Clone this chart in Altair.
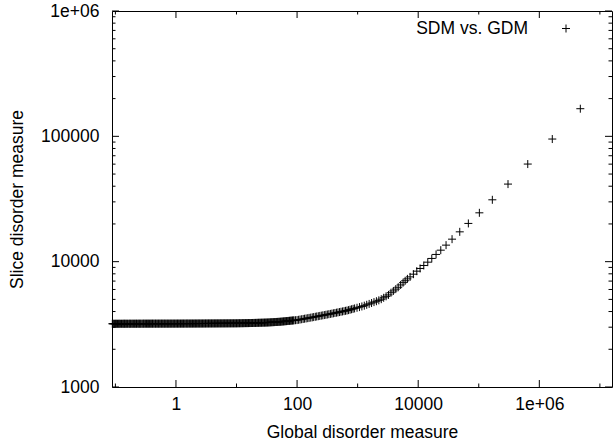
import altair as alt
import pandas as pd

# ---- data (Global disorder measure vs Slice disorder measure)
gdm_1 = [0.089, 0.094, 0.1, 0.105, 0.112, 0.118, 0.126, 0.134, 0.141, 0.149,
         0.158, 0.169, 0.177, 0.189, 0.2, 0.212, 0.223, 0.238, 0.251, 0.265,
         0.283, 0.298, 0.316, 0.336, 0.354, 0.377, 0.398, 0.421, 0.448, 0.472,
         0.501, 0.53, 0.563, 0.595, 0.632, 0.667, 0.709, 0.749, 0.795, 0.84]
sdm_1 = [3195, 3195, 3196, 3196, 3196, 3197, 3197, 3197, 3198, 3198,
         3198, 3198, 3199, 3199, 3199, 3199, 3200, 3200, 3200, 3200,
         3200, 3201, 3201, 3201, 3201, 3201, 3202, 3202, 3202, 3202,
         3202, 3202, 3203, 3203, 3203, 3203, 3203, 3203, 3203, 3204]
gdm_1b = [0.0915, 0.097, 0.1025, 0.1085, 0.115, 0.122, 0.13, 0.1375, 0.145, 0.1535,
          0.163, 0.173, 0.183, 0.194, 0.206, 0.218, 0.23, 0.244, 0.258, 0.274,
          0.29, 0.307, 0.326, 0.345, 0.365, 0.387, 0.41, 0.434, 0.46, 0.487,
          0.516, 0.546, 0.579, 0.613, 0.65, 0.688, 0.729, 0.772, 0.818, 0.866]
sdm_1b = [3195, 3195, 3196, 3196, 3197, 3197, 3197, 3198, 3198, 3198,
          3198, 3199, 3199, 3199, 3199, 3200, 3200, 3200, 3200, 3200,
          3201, 3201, 3201, 3201, 3201, 3202, 3202, 3202, 3202, 3202,
          3202, 3203, 3203, 3203, 3203, 3203, 3203, 3203, 3204, 3204]

gdm_2 = [0.892, 0.943, 1.0, 1.06, 1.12, 1.19, 1.26, 1.33, 1.41, 1.5,
         1.58, 1.68, 1.78, 1.88, 2.0, 2.11, 2.24, 2.37, 2.51, 2.66,
         2.82, 2.99, 3.16, 3.35, 3.55, 3.76, 3.98, 4.22, 4.47, 4.73,
         5.01, 5.31, 5.62, 5.96, 6.31, 6.68, 7.08, 7.5, 7.94, 8.41]
sdm_2 = [3204, 3204, 3204, 3205, 3205, 3205, 3206, 3206, 3206, 3207,
         3207, 3207, 3208, 3208, 3208, 3209, 3209, 3210, 3210, 3210,
         3211, 3211, 3212, 3212, 3213, 3213, 3214, 3214, 3215, 3215,
         3216, 3216, 3217, 3217, 3218, 3218, 3219, 3220, 3220, 3221]
gdm_2b = [0.917, 0.971, 1.03, 1.09, 1.155, 1.225, 1.295, 1.37, 1.455, 1.54,
          1.63, 1.73, 1.83, 1.94, 2.055, 2.175, 2.305, 2.44, 2.585, 2.74,
          2.9, 3.075, 3.255, 3.45, 3.655, 3.87, 4.1, 4.345, 4.6, 4.87,
          5.16, 5.465, 5.79, 6.135, 6.495, 6.88, 7.29, 7.72, 8.175, 8.66]
sdm_2b = [3204, 3204, 3205, 3205, 3205, 3206, 3206, 3206, 3207, 3207,
          3207, 3208, 3208, 3208, 3209, 3209, 3210, 3210, 3210, 3211,
          3211, 3212, 3212, 3213, 3213, 3214, 3214, 3215, 3215, 3216,
          3216, 3217, 3217, 3218, 3218, 3219, 3219, 3220, 3221, 3221]

gdm_3 = [8.91, 9.44, 10.0, 10.6, 11.2, 11.9, 12.6, 13.3, 14.1, 15.0,
         15.8, 16.8, 17.8, 18.8, 20.0, 21.1, 22.4, 23.7, 25.1, 26.6,
         28.2, 29.9, 31.6, 33.5, 35.5, 37.6, 39.8, 42.2, 44.7, 47.3,
         50.1, 53.1, 56.2, 59.6, 63.1, 66.8, 70.8, 75.0, 79.4, 84.1]
sdm_3 = [3221, 3221, 3222, 3224, 3225, 3227, 3229, 3231, 3233, 3234,
         3236, 3238, 3240, 3243, 3245, 3248, 3251, 3254, 3257, 3260,
         3263, 3265, 3268, 3273, 3278, 3284, 3289, 3295, 3301, 3306,
         3312, 3318, 3327, 3336, 3345, 3354, 3364, 3373, 3383, 3392]
gdm_3b = [9.17, 9.71, 10.3, 10.9, 11.55, 12.25, 12.95, 13.7, 14.55, 15.4,
          16.3, 17.3, 18.3, 19.4, 20.55, 21.75, 23.05, 24.4, 25.85, 27.4,
          29.0, 30.75, 32.55, 34.5, 36.55, 38.7, 41.0, 43.45, 46.0, 48.7,
          51.6, 54.65, 57.9, 61.35, 64.95, 68.8, 72.9, 77.2, 81.75, 86.6]
sdm_3b = [3221, 3222, 3223, 3225, 3226, 3228, 3230, 3232, 3233, 3235,
          3237, 3239, 3241, 3244, 3246, 3249, 3252, 3255, 3258, 3261,
          3264, 3266, 3270, 3275, 3281, 3286, 3292, 3298, 3303, 3309,
          3315, 3322, 3331, 3340, 3350, 3359, 3368, 3378, 3387, 3397]

gdm_4 = [89.1, 94.4, 100, 106, 112, 119, 126, 133, 141, 150,
         158, 168, 178, 188, 200, 211, 224, 237, 251, 266,
         282, 299, 316, 335, 355, 376, 398, 422, 447, 473,
         501, 531, 562, 596, 631, 668, 708, 750, 794, 841]
sdm_4 = [3402, 3411, 3420, 3437, 3454, 3471, 3489, 3506, 3524, 3541,
         3559, 3577, 3595, 3614, 3633, 3652, 3671, 3690, 3710, 3729,
         3749, 3769, 3789, 3810, 3830, 3852, 3873, 3895, 3917, 3939,
         3961, 3984, 4007, 4030, 4053, 4076, 4105, 4137, 4170, 4203]

gdm_5 = [891, 977, 1072, 1175, 1288, 1413, 1549, 1698, 1862, 2042,
         2239, 2455, 2692, 2951, 3236, 3548, 3890, 4266, 4677, 5129,
         5623, 6095]
sdm_5 = [4235, 4288, 4340, 4393, 4455, 4528, 4602, 4678, 4756, 4835,
         4915, 5020, 5150, 5290, 5430, 5650, 5840, 6040, 6250, 6520,
         6800, 7040]

gdm_6 = [6640, 7350, 8330, 9480, 10740, 12360, 14390, 16760, 19730, 23590,
         28840, 36220, 48560, 67300, 102300, 167500, 304100, 644000, 1637000, 4753000]
sdm_6 = [7290, 7561, 7946, 8399, 8825, 9325, 9908, 10610, 11420, 12350,
         13550, 15120, 17300, 20190, 24530, 31160, 41590, 60100, 95150, 166100]

gdm = gdm_1 + gdm_1b + gdm_2 + gdm_2b + gdm_3 + gdm_3b + gdm_4 + gdm_5 + gdm_6
sdm = sdm_1 + sdm_1b + sdm_2 + sdm_2b + sdm_3 + sdm_3b + sdm_4 + sdm_5 + sdm_6

x_major = [1, 100, 10000, 1000000]
x_minor = [0.1, 10, 1000, 100000, 10000000]
y_major = [1000, 10000, 100000, 1000000]
y_minor = [2000, 3000, 4000, 5000, 6000, 7000, 8000, 9000,
           20000, 30000, 40000, 50000, 60000, 70000, 80000, 90000,
           200000, 300000, 400000, 500000, 600000, 700000, 800000, 900000]

legend_label = "SDM vs. GDM"
x_title = "Global disorder measure"
y_title = "Slice disorder measure"

W, H = 500, 376
FONT = "Liberation Sans"
FS = 17.5
CROSS = "M-1,0L1,0M0,-1L0,1"

xscale = alt.Scale(type="log", domain=[0.0879, 1.585e7], nice=False)
yscale = alt.Scale(type="log", domain=[1000, 1000000], nice=False)

lab = "datum.value >= 1000000 ? '1e+06' : format(datum.value, 'd')"

ax_x = alt.Axis(values=x_major, labelExpr=lab, ticks=False, domain=False, grid=False,
                title=x_title, labelPadding=8, titlePadding=11,
                labelFontSize=FS, titleFontSize=FS, labelFont=FONT, titleFont=FONT,
                labelColor="black", titleColor="black", titleFontWeight="normal",
                labelFlush=False)
ax_y = alt.Axis(values=y_major, labelExpr=lab, ticks=False, domain=False, grid=False,
                title=y_title, labelPadding=13, titlePadding=14,
                labelFontSize=FS, titleFontSize=FS, labelFont=FONT, titleFont=FONT,
                labelColor="black", titleColor="black", titleFontWeight="normal",
                labelFlush=False)

df = pd.DataFrame({"gdm": gdm, "sdm": sdm})

points = alt.Chart(df).mark_point(
    shape=CROSS, filled=False, stroke="black", strokeWidth=1, opacity=1, size=64
).encode(
    x=alt.X("gdm:Q", scale=xscale, axis=ax_x),
    y=alt.Y("sdm:Q", scale=yscale, axis=ax_y),
)

def xticks(vals, length):
    d = pd.DataFrame({"gdm": vals})
    b = alt.Chart(d).mark_rule(color="black", strokeWidth=1).encode(
        x=alt.X("gdm:Q", scale=xscale, axis=ax_x), y=alt.value(H), y2=alt.value(H - length))
    t = alt.Chart(d).mark_rule(color="black", strokeWidth=1).encode(
        x=alt.X("gdm:Q", scale=xscale, axis=ax_x), y=alt.value(0), y2=alt.value(length))
    return [b, t]

def yticks(vals, length):
    d = pd.DataFrame({"sdm": vals})
    l = alt.Chart(d).mark_rule(color="black", strokeWidth=1).encode(
        y=alt.Y("sdm:Q", scale=yscale, axis=ax_y), x=alt.value(0), x2=alt.value(length))
    r = alt.Chart(d).mark_rule(color="black", strokeWidth=1).encode(
        y=alt.Y("sdm:Q", scale=yscale, axis=ax_y), x=alt.value(W), x2=alt.value(W - length))
    return [l, r]

ticks = xticks(x_major, 7) + xticks(x_minor, 3.5) + yticks(y_major, 7) + yticks(y_minor, 3.5)

leg_df = pd.DataFrame({"label": [legend_label]})
leg_text = alt.Chart(leg_df).mark_text(
    align="right", baseline="middle", font=FONT, fontSize=FS, color="black"
).encode(text="label:N", x=alt.value(416), y=alt.value(17.5))
leg_mark = alt.Chart(leg_df).mark_point(
    shape=CROSS, filled=False, stroke="black", strokeWidth=1, opacity=1, size=64
).encode(x=alt.value(454), y=alt.value(17.5))

chart = alt.layer(points, *ticks, leg_text, leg_mark).properties(
    width=W, height=H,
    autosize=alt.AutoSizeParams(type="none"),
    padding={"left": 112, "top": 11, "right": 1, "bottom": 59},
    background="white",
).configure_view(stroke="black", strokeWidth=1)

chart.save("out.html", embed_options={"renderer": "svg", "actions": False})
